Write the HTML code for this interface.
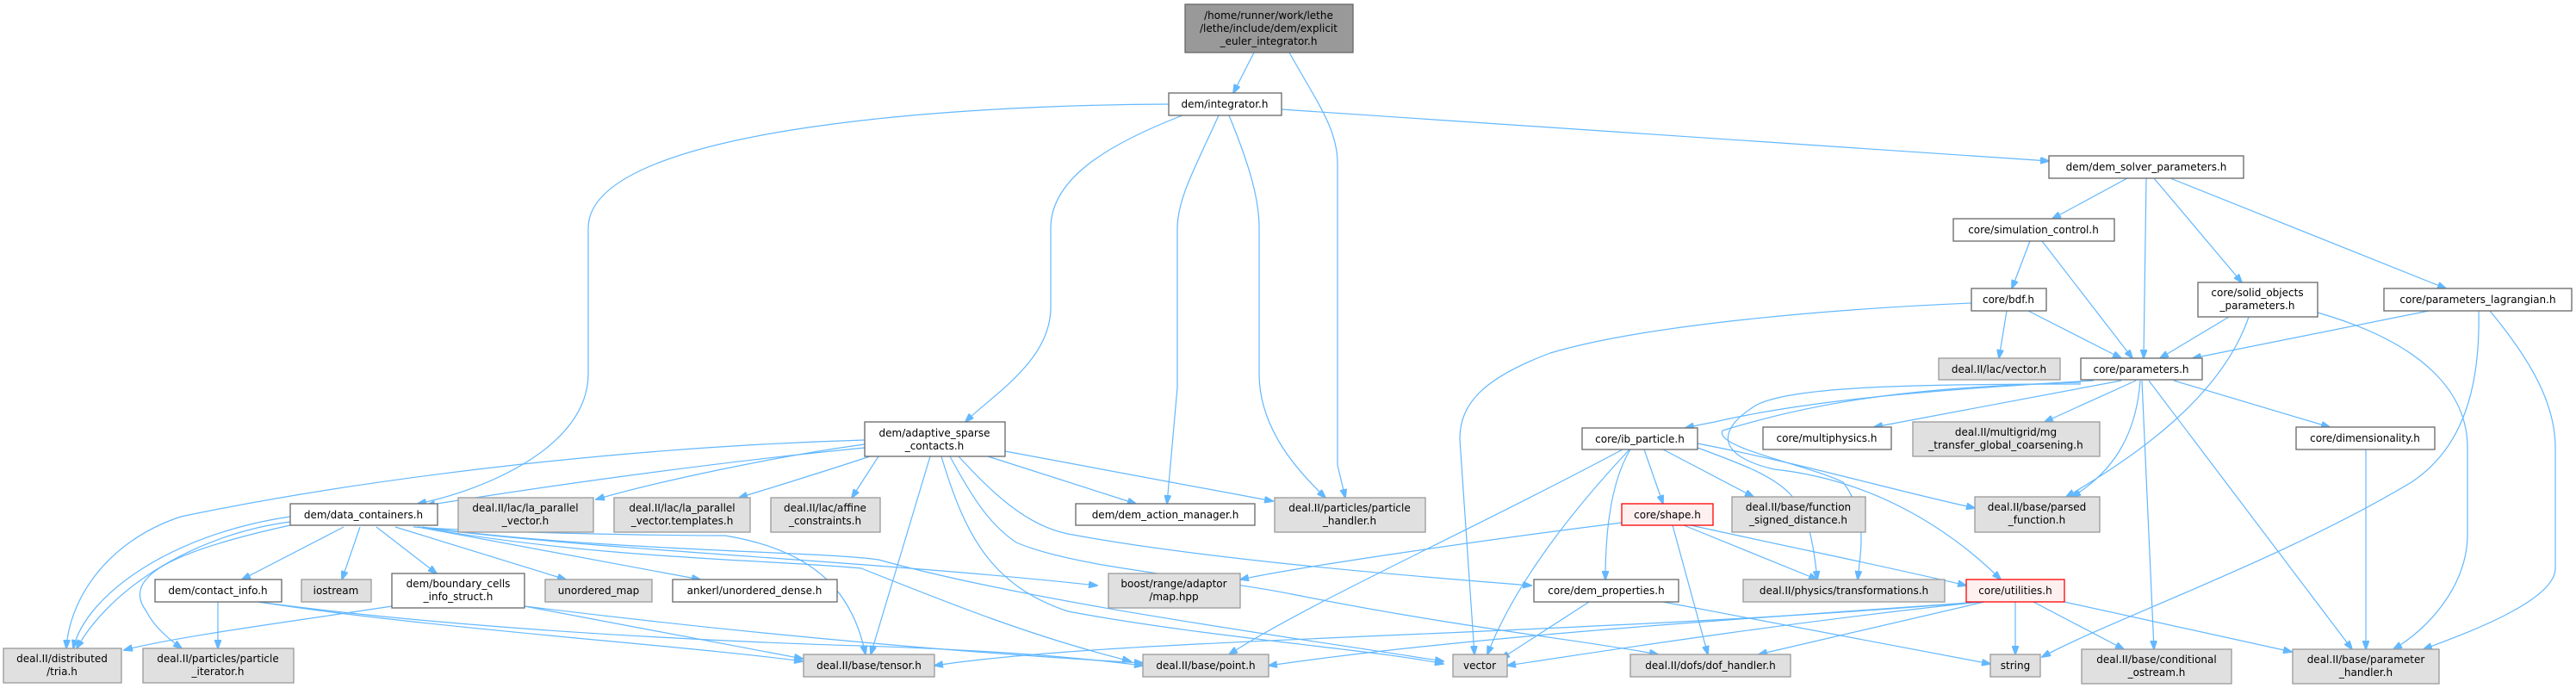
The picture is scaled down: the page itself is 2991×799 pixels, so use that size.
<!DOCTYPE html>
<html><head><meta charset="utf-8"><style>
html,body{margin:0;padding:0;background:#fff;}
svg{display:block;}
text{font-family:"DejaVu Sans","Liberation Sans",sans-serif;font-size:12px;fill:#000;text-anchor:middle;}
.w{fill:#fff;stroke:#666;stroke-width:1.3;}
.g{fill:#e0e0e0;stroke:#999;stroke-width:1.3;}
.r{fill:#fff0f0;stroke:#f00;stroke-width:1.3;}
.t{fill:#999;stroke:#666;stroke-width:1.3;}
path{fill:none;stroke:#63b8ff;stroke-width:1.2;}
</style></head><body>
<svg width="2991" height="799" viewBox="0 0 2991 799" xmlns="http://www.w3.org/2000/svg">
<defs><marker id="a" markerWidth="11" markerHeight="8" refX="10" refY="4" orient="auto" markerUnits="userSpaceOnUse"><polygon points="0,0 11,4 0,8" fill="#63b8ff" stroke="#63b8ff"/></marker></defs>
<g marker-end="url(#a)">
<path d="M1456,61 L1432,108"/>
<path d="M1497,61 C1530,120 1553,150 1553,190 L1553,540 L1562,578"/>
<path d="M1357,121 C1100,122 683,150 683,265 L683,434 C683,520 560,570 485,585"/>
<path d="M1373,134 C1280,170 1220,210 1220,265 L1220,357 C1220,420 1150,460 1121,490"/>
<path d="M1415,134 C1390,190 1367,230 1367,265 L1367,450 L1355,585"/>
<path d="M1427,134 C1450,190 1462,230 1462,265 L1462,434 C1462,500 1510,550 1539,578"/>
<path d="M1488,127 L2379,187"/>
<path d="M1004,520 C800,540 600,570 495,587"/>
<path d="M1004,511 C700,520 400,560 210,600 C120,630 80,700 77,753"/>
<path d="M1004,516 C900,530 760,560 692,580"/>
<path d="M1010,530 C950,550 900,565 858,578"/>
<path d="M1020,530 L989,578"/>
<path d="M1147,530 L1319,585"/>
<path d="M1167,524 L1478,582"/>
<path d="M1080,530 L1011,760"/>
<path d="M1093,530 C1120,620 1150,680 1240,710 C1400,740 1600,755 1676,771"/>
<path d="M1103,530 C1130,580 1150,610 1180,630 C1250,660 1400,670 1500,690 C1700,730 1850,745 1925,760"/>
<path d="M1113,530 C1150,570 1190,610 1240,620 C1400,650 1650,670 1778,680"/>
<path d="M399,612 L281,673"/>
<path d="M418,612 L397,673"/>
<path d="M437,612 L507,666"/>
<path d="M459,612 L657,673"/>
<path d="M485,612 L813,673"/>
<path d="M337,606 C230,620 130,680 89,753"/>
<path d="M337,600 C200,620 100,690 85,753"/>
<path d="M337,610 C200,640 140,670 170,710 C180,730 200,745 211,753"/>
<path d="M485,612 C700,640 1000,650 1274,680"/>
<path d="M490,612 C700,640 950,640 1020,650 C1200,700 1500,740 1676,768"/>
<path d="M485,612 C700,650 900,650 1000,660 C1100,700 1200,740 1313,768"/>
<path d="M480,612 C600,620 800,622 842,622 C950,640 990,690 1005,760"/>
<path d="M253,699 L253,753"/>
<path d="M300,699 C500,730 800,750 932,768"/>
<path d="M300,699 C600,740 1000,750 1000,750 C1150,755 1250,763 1327,773"/>
<path d="M455,704 C350,720 200,740 144,755"/>
<path d="M609,704 C750,730 880,755 932,765"/>
<path d="M609,704 C900,740 1150,760 1327,770"/>
<path d="M2470,207 L2383,254"/>
<path d="M2492,207 L2489,416"/>
<path d="M2501,207 L2603,328"/>
<path d="M2520,207 L2840,335"/>
<path d="M2357,280 L2336,335"/>
<path d="M2371,280 L2476,416"/>
<path d="M2330,361 L2321,416"/>
<path d="M2355,361 L2463,416"/>
<path d="M2289,352 C2100,360 1900,380 1800,410 C1720,440 1695,470 1695,510 L1712,760"/>
<path d="M2588,368 L2508,416"/>
<path d="M2611,368 C2580,460 2480,530 2399,577"/>
<path d="M2691,363 C2820,400 2865,460 2865,520 L2865,620 C2865,680 2820,730 2779,754"/>
<path d="M2820,361 L2546,416"/>
<path d="M2878,361 C2880,450 2860,520 2800,560 C2650,650 2450,720 2371,763"/>
<path d="M2891,361 C2940,420 2967,470 2967,520 L2967,660 C2967,700 2850,740 2814,754"/>
<path d="M2431,442 C2300,450 2120,460 1991,490 C1980,492 1970,494 1957,497"/>
<path d="M2416,446 C2200,446 2080,450 2040,470 C1990,500 1995,530 2060,545 C2200,560 2290,640 2323,673"/>
<path d="M2416,444 C2200,450 2100,470 2000,500 C1990,520 2100,540 2140,560 C2170,600 2160,640 2157,673"/>
<path d="M2463,442 L2176,496"/>
<path d="M2480,442 L2374,490"/>
<path d="M2524,442 L2705,496"/>
<path d="M2485,442 C2480,510 2450,550 2406,577"/>
<path d="M2487,442 L2501,754"/>
<path d="M2495,442 L2731,754"/>
<path d="M2747,522 L2747,754"/>
<path d="M1909,522 L1931,585"/>
<path d="M1893,522 C1870,560 1864,620 1864,673"/>
<path d="M1884,522 C1700,620 1520,700 1427,760"/>
<path d="M1892,522 C1800,620 1750,700 1727,760"/>
<path d="M1931,522 L2036,577"/>
<path d="M1971,515 C2100,540 2200,570 2293,590"/>
<path d="M1971,520 C2080,560 2100,570 2110,673"/>
<path d="M1883,607 C1700,630 1500,660 1440,673"/>
<path d="M1942,610 L1983,760"/>
<path d="M1963,610 C2100,640 2200,660 2283,680"/>
<path d="M1955,610 L2110,673"/>
<path d="M1845,699 L1743,765"/>
<path d="M1931,699 C2100,730 2250,760 2311,771"/>
<path d="M2340,699 L2340,760"/>
<path d="M2361,699 L2466,754"/>
<path d="M2397,699 L2661,757"/>
<path d="M2304,699 L2042,760"/>
<path d="M2300,699 C2100,720 1900,750 1750,773"/>
<path d="M2300,699 C2000,720 1700,740 1473,773"/>
<path d="M2300,699 C1800,740 1300,740 1085,773"/>
</g>
<rect class="t" x="1376" y="5" width="195" height="56"/>
<text x="1473" y="22">/home/runner/work/lethe</text><text x="1473" y="37">/lethe/include/dem/explicit</text><text x="1473" y="52">_euler_integrator.h</text>
<rect class="w" x="1357" y="108" width="131" height="26"/><text x="1422" y="125">dem/integrator.h</text>
<rect class="w" x="1004" y="490" width="163" height="40"/><text x="1085" y="507">dem/adaptive_sparse</text><text x="1085" y="522">_contacts.h</text>
<rect class="w" x="1249" y="585" width="208" height="25"/><text x="1353" y="602">dem/dem_action_manager.h</text>
<rect class="g" x="1480" y="578" width="175" height="40"/><text x="1567" y="594">deal.II/particles/particle</text><text x="1567" y="609">_handler.h</text>
<rect class="g" x="1287" y="666" width="153" height="40"/><text x="1363" y="682">boost/range/adaptor</text><text x="1363" y="697">/map.hpp</text>
<rect class="w" x="1781" y="673" width="168" height="26"/><text x="1865" y="690">core/dem_properties.h</text>
<rect class="w" x="1837" y="497" width="134" height="25"/><text x="1904" y="514">core/ib_particle.h</text>
<rect class="r" x="1883" y="585" width="106" height="25"/><text x="1936" y="602">core/shape.h</text>
<rect class="g" x="933" y="760" width="152" height="26"/><text x="1009" y="777">deal.II/base/tensor.h</text>
<rect class="g" x="1327" y="760" width="146" height="26"/><text x="1400" y="777">deal.II/base/point.h</text>
<rect class="g" x="1687" y="760" width="63" height="26"/><text x="1718" y="777">vector</text>
<rect class="g" x="1893" y="760" width="186" height="26"/><text x="1986" y="777">deal.II/dofs/dof_handler.h</text>
<rect class="w" x="337" y="585" width="171" height="25"/><text x="422" y="602">dem/data_containers.h</text>
<rect class="g" x="532" y="578" width="157" height="40"/><text x="610" y="594">deal.II/lac/la_parallel</text><text x="610" y="609">_vector.h</text>
<rect class="g" x="713" y="578" width="158" height="40"/><text x="792" y="594">deal.II/lac/la_parallel</text><text x="792" y="609">_vector.templates.h</text>
<rect class="g" x="895" y="578" width="127" height="40"/><text x="958" y="594">deal.II/lac/affine</text><text x="958" y="609">_constraints.h</text>
<rect class="w" x="180" y="673" width="147" height="26"/><text x="253" y="690">dem/contact_info.h</text>
<rect class="g" x="350" y="673" width="81" height="26"/><text x="390" y="690">iostream</text>
<rect class="w" x="455" y="666" width="154" height="40"/><text x="532" y="682">dem/boundary_cells</text><text x="532" y="697">_info_struct.h</text>
<rect class="g" x="633" y="673" width="124" height="26"/><text x="695" y="690">unordered_map</text>
<rect class="w" x="781" y="673" width="191" height="26"/><text x="876" y="690">ankerl/unordered_dense.h</text>
<rect class="g" x="4" y="753" width="137" height="40"/><text x="72" y="769">deal.II/distributed</text><text x="72" y="784">/tria.h</text>
<rect class="g" x="166" y="753" width="175" height="40"/><text x="253" y="769">deal.II/particles/particle</text><text x="253" y="784">_iterator.h</text>
<rect class="w" x="2379" y="181" width="226" height="26"/><text x="2492" y="198">dem/dem_solver_parameters.h</text>
<rect class="w" x="2268" y="254" width="187" height="26"/><text x="2361" y="271">core/simulation_control.h</text>
<rect class="w" x="2289" y="335" width="87" height="26"/><text x="2332" y="352">core/bdf.h</text>
<rect class="w" x="2552" y="328" width="139" height="40"/><text x="2621" y="344">core/solid_objects</text><text x="2621" y="359">_parameters.h</text>
<rect class="w" x="2768" y="335" width="218" height="26"/><text x="2877" y="352">core/parameters_lagrangian.h</text>
<rect class="g" x="2251" y="416" width="141" height="25"/><text x="2321" y="433">deal.II/lac/vector.h</text>
<rect class="w" x="2416" y="416" width="141" height="25"/><text x="2486" y="433">core/parameters.h</text>
<rect class="w" x="2047" y="496" width="149" height="26"/><text x="2121" y="513">core/multiphysics.h</text>
<rect class="g" x="2221" y="490" width="217" height="40"/><text x="2329" y="506">deal.II/multigrid/mg</text><text x="2329" y="521">_transfer_global_coarsening.h</text>
<rect class="w" x="2666" y="496" width="161" height="26"/><text x="2746" y="513">core/dimensionality.h</text>
<rect class="g" x="2011" y="577" width="155" height="41"/><text x="2088" y="593">deal.II/base/function</text><text x="2088" y="608">_signed_distance.h</text>
<rect class="g" x="2293" y="577" width="145" height="41"/><text x="2365" y="593">deal.II/base/parsed</text><text x="2365" y="608">_function.h</text>
<rect class="g" x="2024" y="673" width="234" height="26"/><text x="2141" y="690">deal.II/physics/transformations.h</text>
<rect class="r" x="2283" y="673" width="114" height="26"/><text x="2340" y="690">core/utilities.h</text>
<rect class="g" x="2311" y="760" width="58" height="26"/><text x="2340" y="777">string</text>
<rect class="g" x="2417" y="754" width="174" height="40"/><text x="2504" y="770">deal.II/base/conditional</text><text x="2504" y="785">_ostream.h</text>
<rect class="g" x="2662" y="754" width="170" height="40"/><text x="2747" y="770">deal.II/base/parameter</text><text x="2747" y="785">_handler.h</text>
</svg>
</body></html>
